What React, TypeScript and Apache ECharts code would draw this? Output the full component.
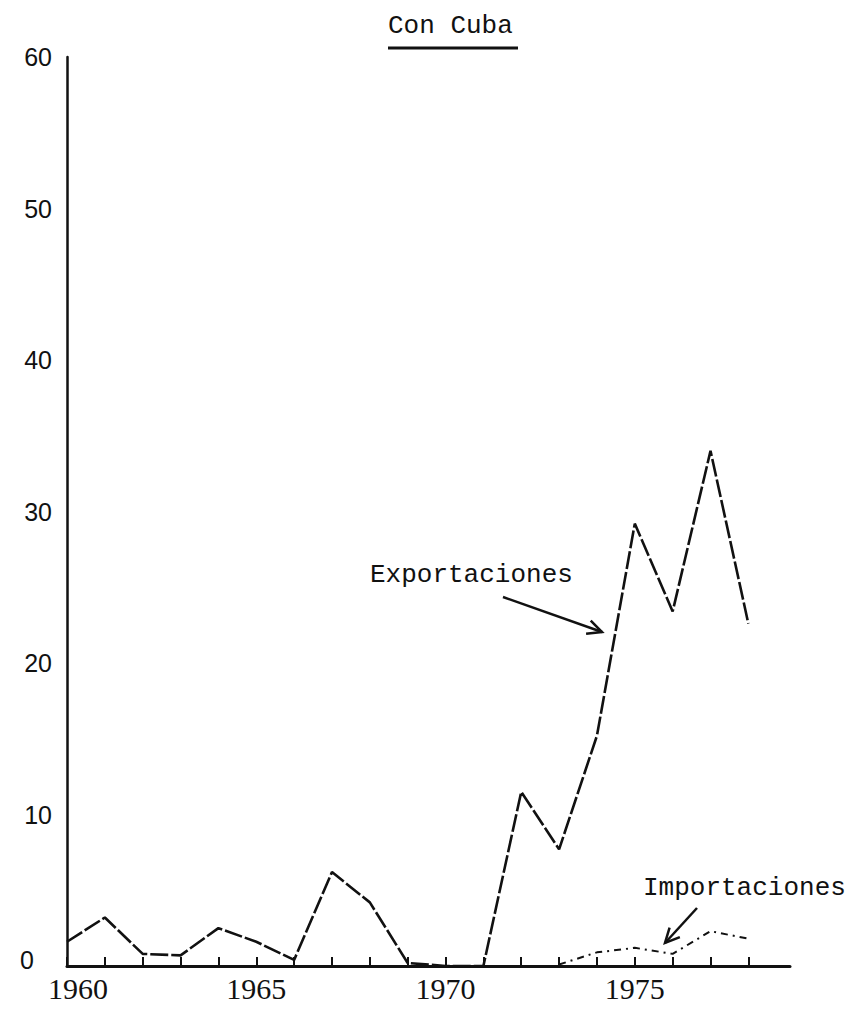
import React, { useEffect, useRef } from "react";
import * as echarts from "echarts";

const years = [1960, 1961, 1962, 1963, 1964, 1965, 1966, 1967, 1968, 1969, 1970, 1971, 1972, 1973, 1974, 1975, 1976, 1977, 1978];
const exportaciones = [1.6, 3.2, 0.8, 0.7, 2.5, 1.6, 0.4, 6.2, 4.2, 0.2, 0, 0, 11.5, 7.7, 15.2, 29.2, 23.4, 34.0, 22.6];
const importaciones = [null, null, null, null, null, null, null, null, null, null, null, null, null, 0.1, 0.9, 1.2, 0.8, 2.3, 1.8];
const yTicks = [0, 10, 20, 30, 40, 50, 60];
const xLabelYears = [1960, 1965, 1970, 1975];
const titleText = "Con Cuba";
const exportLabel = "Exportaciones";
const importLabel = "Importaciones";

const INK = "#111";

function arrow(x1: number, y1: number, x2: number, y2: number, head: number, width: number) {
  const ang = Math.atan2(y2 - y1, x2 - x1);
  const a1 = ang + Math.PI - 0.45;
  const a2 = ang + Math.PI + 0.45;
  return [
    { type: "line", shape: { x1, y1, x2, y2 }, style: { stroke: INK, lineWidth: width } },
    {
      type: "polyline",
      shape: {
        points: [
          [x2 + head * Math.cos(a1), y2 + head * Math.sin(a1)],
          [x2, y2],
          [x2 + head * Math.cos(a2), y2 + head * Math.sin(a2)],
        ],
      },
      style: { stroke: INK, lineWidth: width, fill: "none" },
    },
  ];
}

export default function App() {
  const ref = useRef<HTMLDivElement>(null);
  useEffect(() => {
    if (!ref.current) return;
    const chart = echarts.init(ref.current, undefined, { renderer: "svg" });
    const expData = years.map((y, i) => [y, exportaciones[i]]);
    const impData = years.map((y, i) => [y, importaciones[i]]).filter((d) => d[1] !== null);
    chart.setOption({
      animation: false,
      backgroundColor: "#fff",
      title: {
        text: titleText,
        left: 388,
        top: 13,
        padding: 0,
        textStyle: { fontFamily: "Liberation Mono", fontSize: 26, fontWeight: "normal", color: INK },
      },
      grid: { left: 67, right: 74, top: 57, bottom: 45, containLabel: false },
      xAxis: {
        type: "value",
        min: 1960,
        max: 1979.1,
        interval: 1,
        splitLine: { show: false },
        axisLine: { show: true, lineStyle: { color: INK, width: 3 } },
        axisTick: {
          show: true,
          inside: true,
          length: 9,
          customValues: years,
          lineStyle: { color: INK, width: 2 },
        },
        axisLabel: {
          show: true,
          customValues: xLabelYears,
          margin: 7,
          fontFamily: "Liberation Serif",
          fontSize: 30,
          color: INK,
          formatter: (v: number) => {
            const s = String(Math.round(v));
            return Math.round(v) === 1960 ? "{first|" + s + "}" : s;
          },
          rich: {
            first: { fontFamily: "Liberation Serif", fontSize: 30, color: INK, padding: [0, 0, 0, 22] },
          },
        },
      },
      yAxis: {
        type: "value",
        min: 0,
        max: 60,
        interval: 10,
        splitLine: { show: false },
        axisLine: { show: true, lineStyle: { color: INK, width: 2.5 } },
        axisTick: { show: false },
        axisLabel: {
          show: true,
          customValues: yTicks,
          margin: 15,
          fontFamily: "Liberation Sans",
          fontSize: 25,
          color: INK,
          formatter: (v: number) => (v === 0 ? "{zero|0}" : String(v)),
          rich: {
            zero: { fontFamily: "Liberation Sans", fontSize: 25, color: INK, padding: [0, 18, 12, 0] },
          },
        },
      },
      series: [
        {
          name: exportLabel,
          type: "line",
          data: expData,
          symbol: "none",
          lineStyle: { color: INK, width: 2.6, type: [18, 3] },
          z: 3,
        },
        {
          name: importLabel,
          type: "line",
          data: impData,
          symbol: "none",
          lineStyle: { color: INK, width: 2, type: [7, 5, 2, 5] },
          z: 3,
        },
      ],
      graphic: [
        { type: "line", shape: { x1: 388, y1: 48, x2: 518, y2: 48 }, style: { stroke: INK, lineWidth: 3 } },
        {
          type: "text",
          x: 370,
          y: 575,
          style: { text: exportLabel, fontFamily: "Liberation Mono", fontSize: 26, fill: INK, textVerticalAlign: "middle", verticalAlign: "middle" },
        },
        ...arrow(503, 597, 602, 632, 16, 2.5),
        {
          type: "text",
          x: 643,
          y: 888,
          style: { text: importLabel, fontFamily: "Liberation Mono", fontSize: 26, fill: INK, textVerticalAlign: "middle", verticalAlign: "middle" },
        },
        ...arrow(697, 908, 665, 943, 16, 2.5),
      ],
    });
    return () => chart.dispose();
  }, []);
  return <div ref={ref} style={{ position: "absolute", left: 0, top: 0, width: 864, height: 1011 }} />;
}
